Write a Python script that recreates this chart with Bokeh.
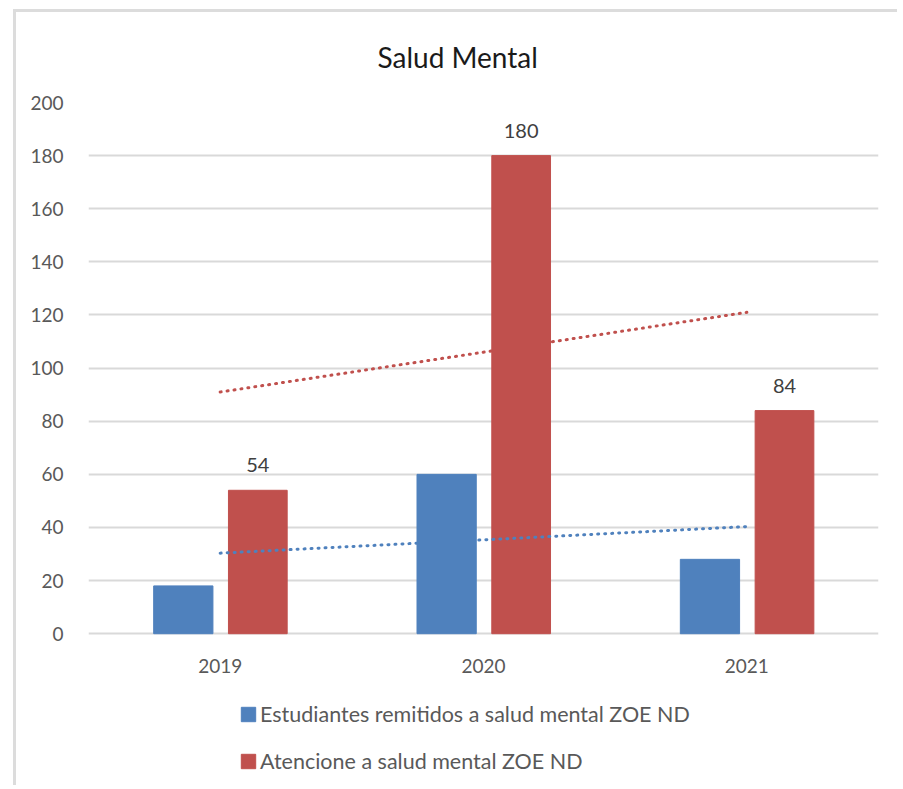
import numpy as np
from bokeh.plotting import figure
from bokeh.models import (FactorRange, Range1d, Legend, LegendItem, Title,
                          ColumnDataSource, LabelSet, FixedTicker)
from bokeh.core.properties import value
from bokeh.transform import dodge
from bokeh.embed import file_html
from bokeh.resources import INLINE

# ---- data ----
years = ["2019", "2020", "2021"]
remitidos = [18, 60, 28]
atenciones = [54, 180, 84]
y_ticks = [0, 20, 40, 60, 80, 100, 120, 140, 160, 180, 200]
title_text = "Salud Mental"
name_rem = "Estudiantes remitidos a salud mental ZOE ND"
name_atn = "Atencione a salud mental ZOE ND"

BLUE = "#4F81BD"
RED = "#C0504D"
FONT = "Lato"

# linear trendlines (least squares, like Excel)
idx = np.arange(len(years))
tr_rem = np.polyval(np.polyfit(idx, remitidos, 1), idx)
tr_atn = np.polyval(np.polyfit(idx, atenciones, 1), idx)

src = ColumnDataSource(dict(year=years, rem=remitidos, atn=atenciones,
                            atn_label=[str(v) for v in atenciones]))

# geometry: frame spans from the 200 gridline down to near the canvas bottom,
# so the x axis (fixed at y=0) and the legend both sit inside the frame.
W, H = 884, 776
TOP, BOTTOM, LEFT, RIGHT = 89, 11, 72, 22
ZERO_PX = 621                      # canvas y of the 0 line
px_per_unit = (ZERO_PX - TOP) / 200.0
y_start = -((H - BOTTOM) - ZERO_PX) / px_per_unit

p = figure(x_range=FactorRange(factors=years, range_padding=0),
           y_range=Range1d(y_start, 200),
           width=W, height=H,
           output_backend="svg", toolbar_location=None,
           min_border_left=LEFT, min_border_right=RIGHT,
           min_border_top=TOP, min_border_bottom=BOTTOM)
p.styles = {"margin-left": "13px", "margin-top": "9px",
            "border-left": "3px solid #dcdcdc", "border-top": "3px solid #dcdcdc"}

p.outline_line_color = None
p.background_fill_color = "white"
p.border_fill_color = "white"

# title
p.title = Title(text=title_text, align="left", offset=289, standoff=54,
                vertical_align="top",
                text_font=FONT, text_font_size="28px", text_font_style="normal",
                text_color="#1a1a1a")

# axes
for ax in (p.xaxis, p.yaxis):
    ax.axis_line_color = None
    ax.major_tick_line_color = None
    ax.minor_tick_line_color = None
    ax.major_label_text_font = FONT
    ax.major_label_text_font_size = "19px"
    ax.major_label_text_color = "#595959"
p.yaxis.ticker = FixedTicker(ticks=y_ticks)
p.yaxis.major_label_standoff = 19
p.xaxis.major_label_standoff = 19
p.xaxis.fixed_location = 0

p.xgrid.grid_line_color = None
p.ygrid.grid_line_color = "#d9d9d9"
p.ygrid.grid_line_width = 2

# draw order: red trend, red bars, blue trend, blue bars
p.line(x=years, y=tr_atn, line_color=RED, line_width=3,
       line_dash="1 6", line_cap="round")
r_atn = p.vbar(x=dodge("year", 0.143, range=p.x_range), top="atn", width=0.223,
               source=src, fill_color=RED, line_color=RED)
p.line(x=years, y=tr_rem, line_color=BLUE, line_width=3,
       line_dash="1 6", line_cap="round")
r_rem = p.vbar(x=dodge("year", -0.14, range=p.x_range), top="rem", width=0.225,
               source=src, fill_color=BLUE, line_color=BLUE)

labels = LabelSet(x=dodge("year", 0.143, range=p.x_range), y="atn", text="atn_label",
                  source=src, text_align="center", text_baseline="alphabetic",
                  y_offset=18, text_font=value(FONT), text_font_size=value("20px"),
                  text_color="#404040")
p.add_layout(labels)

legend = Legend(items=[LegendItem(label=name_rem, renderers=[r_rem]),
                       LegendItem(label=name_atn, renderers=[r_atn])],
                location=(151, 3), orientation="vertical",
                glyph_width=18, glyph_height=18, label_height=20,
                spacing=21, padding=0, margin=0, label_standoff=3,
                label_text_font=FONT, label_text_font_size="21.5px",
                label_text_color="#595959",
                border_line_color=None, background_fill_alpha=0)
p.add_layout(legend)

open("out.html", "w").write(file_html(p, INLINE))
